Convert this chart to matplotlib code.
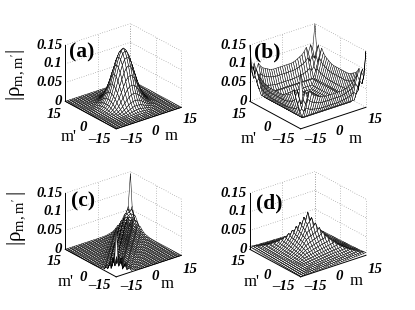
import numpy as np
import matplotlib
matplotlib.use("Agg")
import matplotlib.pyplot as plt
from mpl_toolkits.mplot3d import proj3d

plt.rcParams['font.family'] = ['Liberation Serif', 'DejaVu Serif']
plt.rcParams['mathtext.fontset'] = 'custom'
plt.rcParams['mathtext.rm'] = 'Liberation Serif'

W, H = 415, 310

m_vals = np.arange(-15, 16)
ztick_vals = [0, 0.05, 0.1, 0.15]
ztick_text = ['0', '0.05', '0.1', '0.15']
mtick_vals = [-15, 0, 15]
mtick_text = ['\u201315', '0', '15']

# profiles, index = |m+m'| or |m-m'|
a_peak = 0.15
a_sum = [1, .98, .93, .86, .76, .65, .54, .43, .33, .25, .18, .12, .08, .05, .03, .02,
         .012, .007, .004, .002, .001, 0, 0, 0, 0, 0, 0, 0, 0, 0, 0]
a_diff = a_sum

# panel b: index = max(|m|,|m'|) and min(|m|,|m'|)
b_ring = [.006, .003, .006, .003, .006, .003, .006, .003, .006, .012, .024, .012, .018, .03, .048, .065]
b_along = [1, 1, 1, 1, 1, 1.02, 1.05, 1.1, 1.15, 1.2, 1.3, 1.45, 1.2, 1.5, 1.3, 2.3]

# panel c: sum side toward (15,15), toward (-15,-15), then the width across the diagonal
c_sum_back = [.045, .045, .045, .045, .045, .046, .046, .047, .047, .048, .048, .049, .05, .05, .05, .05,
              .05, .052, .052, .056, .05, .062, .05, .07, .055, .06, .05, .075, .045, .08, .145]
c_sum_front = [.045, .045, .045, .045, .045, .044, .044, .043, .043, .042, .042, .04, .04, .038, .038, .036,
               .036, .034, .034, .03, .034, .028, .036, .025, .04, .03, .045, .03, .05, .04, .13]
c_diff = [1, .75, .9, .5, .55, .3, .3, .15, .12, .06, .05, .02, .01, .005, 0, 0,
          0, 0, 0, 0, 0, 0, 0, 0, 0, 0, 0, 0, 0, 0, 0]

d_peak = 0.107
d_sum = [1, .85, .74, .65, .57, .5, .44, .38, .33, .29, .25, .22, .19, .16, .14, .12,
         .1, .09, .08, .07, .06, .05, .045, .04, .035, .03, .025, .02, .02, .015, .01]
d_diff = [1, .93, .87, .8, .74, .68, .63, .58, .53, .48, .44, .4, .36, .33, .3, .27,
          .24, .22, .2, .18, .16, .145, .13, .12, .11, .1, .09, .085, .08, .075, .07]

M, Mp = np.meshgrid(m_vals, m_vals)
S = M + Mp
D = np.abs(M - Mp)
big = np.maximum(np.abs(M), np.abs(Mp))
small = np.minimum(np.abs(M), np.abs(Mp))

Za = a_peak * np.array(a_sum)[np.abs(S)] * np.array(a_diff)[D]
# the along-edge shape only counts on the outer walls
Zb = np.array(b_ring)[big] * np.where(big >= 13, np.array(b_along)[small], 1)
Zc = np.where(S >= 0, np.array(c_sum_back)[np.abs(S)], np.array(c_sum_front)[np.abs(S)]) * np.array(c_diff)[D]
Zd = d_peak * np.array(d_sum)[np.abs(S)] * np.array(d_diff)[D]

fig = plt.figure(figsize=(W / 100, H / 100), dpi=100)


def put(ax, x, y, z, txt, dx, dy, **kw):
    # dx, dy are pixels from the projected data point
    px, py, _ = proj3d.proj_transform(x, y, z, ax.get_proj())
    ax.annotate(txt, xy=(px, py), xycoords='data', xytext=(dx * 0.72, dy * 0.72),
                textcoords='offset points', annotation_clip=False, **kw)


def panel(cx, cy, Z, letter, lx, ly, offs):
    size = 170
    ax = fig.add_axes([(cx - size / 2) / W, 1 - (cy + size / 2) / H, size / W, size / H],
                      projection='3d', proj_type='ortho')
    ax.patch.set_alpha(0)
    ax.set_axis_off()
    ax.computed_zorder = False
    ax.set_xlim(-15, 15)
    ax.set_ylim(-15, 15)
    ax.set_zlim(0, 0.15)
    ax.view_init(elev=25, azim=-128)
    ax.set_box_aspect((84, 84, 63), zoom=0.756)

    grid = dict(color='#888888', lw=0.5, ls=(0, (1, 2.5)), zorder=1)
    for z in ztick_vals:
        ax.plot([-15, 15], [15, 15], [z, z], **grid)
        ax.plot([15, 15], [-15, 15], [z, z], **grid)
    for t in mtick_vals:
        ax.plot([t, t], [15, 15], [0, 0.15], **grid)
        ax.plot([15, 15], [t, t], [0, 0.15], **grid)

    ax.plot_surface(M, Mp, Z, rstride=1, cstride=1, color='white', edgecolor='black',
                    linewidth=0.35, shade=False, zorder=2)

    edge = dict(color='black', lw=0.7, zorder=3)
    ax.plot([-15, -15], [15, 15], [0, 0.15], **edge)
    ax.plot([-15, -15], [-15, 15], [0, 0], **edge)
    ax.plot([-15, 15], [-15, -15], [0, 0], **edge)

    tick = dict(fontsize=10.7, fontweight='bold', fontstyle='italic', va='center')
    for z, t in zip(ztick_vals, ztick_text):
        put(ax, -15, 15, z, t, -3, 0, ha='right', **tick)
    for v, t, o in zip(mtick_vals, mtick_text, offs['mp']):
        put(ax, -15, v, 0, t, o[0], o[1], ha='center', **tick)
    for v, t, o in zip(mtick_vals, mtick_text, offs['m']):
        put(ax, v, -15, 0, t, o[0], o[1], ha='center', **tick)

    fig.text(lx / W, 1 - ly / H, letter, fontsize=15.5, fontweight='bold', ha='center', va='center')
    fig.text(offs['mlab'][0] / W, 1 - offs['mlab'][1] / H, 'm', fontsize=12, ha='center', va='center')
    fig.text(offs['mplab'][0] / W, 1 - offs['mplab'][1] / H, "m'", fontsize=12, ha='center', va='center')


offs_a = dict(mp=[(-17, -11), (-7.5, -12), (-11, -13)], m=[(15, -11), (6, -13), (9, -12)],
              mlab=(171, 136), mplab=(69, 137))
panel(121, 78.5, Za, '(a)', 82, 52, offs_a)
offs_b = dict(mp=[(-17, -11), (-7.5, -12), (-11, -13)], m=[(15, -11), (6, -13), (9, -12)],
              mlab=(355, 139), mplab=(249, 139))
panel(305.5, 78.5, Zb, '(b)', 267, 52, offs_b)
offs_c = dict(mp=[(-17, -9), (-7.5, -14), (-11, -12)], m=[(15, -10), (6, -10), (9, -14)],
              mlab=(167, 284), mplab=(66, 282))
panel(121, 226.5, Zc, '(c)', 83, 201, offs_c)
offs_d = dict(mp=[(-17, -10), (-7.5, -12), (-12, -12)], m=[(15, -10), (6, -10), (9, -14)],
              mlab=(356, 281), mplab=(252, 282))
panel(305.5, 226.5, Zd, '(d)', 269, 203, offs_d)

fig.text(16 / W, 1 - 75 / H, r"$\mathrm{|ρ_{m,m'}|}$", fontsize=15, rotation=90, ha='center', va='center')
fig.text(17 / W, 1 - 218 / H, r"$\mathrm{|ρ_{m,m'}\,|}$", fontsize=15, rotation=90, ha='center', va='center')

fig.savefig('out.png', dpi=100)
